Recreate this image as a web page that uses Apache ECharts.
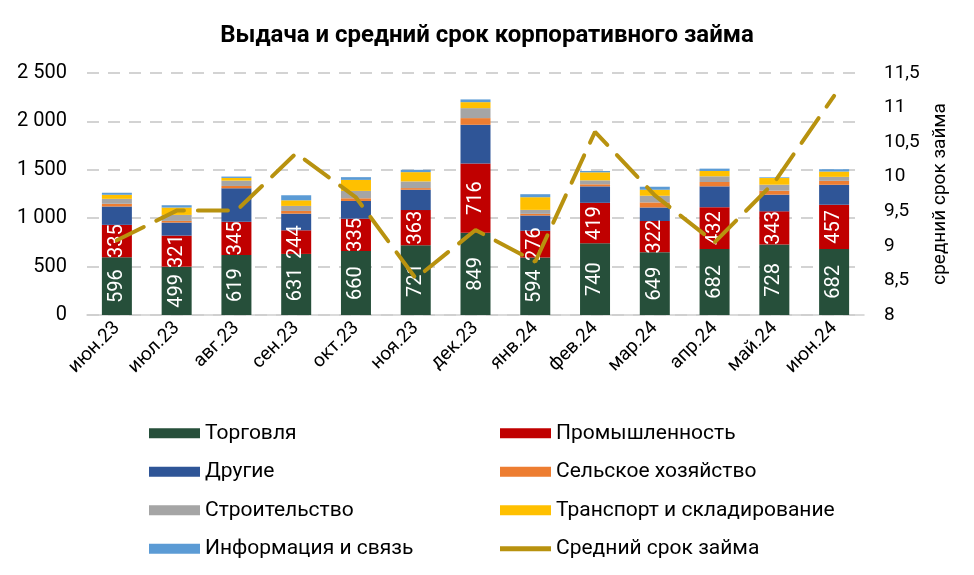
<!DOCTYPE html>
<html><head><meta charset="utf-8">
<script src="https://cdn.jsdelivr.net/npm/echarts@6/dist/echarts.min.js"></script>
<style>html,body{margin:0;padding:0;background:#fff}#c{width:974px;height:575px}</style>
</head><body><div id="c"></div>
<script>
const categories = ['июн.23','июл.23','авг.23','сен.23','окт.23','ноя.23','дек.23','янв.24','фев.24','мар.24','апр.24','май.24','июн.24'];
const trade      = [596, 499, 619, 631, 660, 721, 849, 594, 740, 649, 682, 728, 682];
const industry   = [335, 321, 345, 244, 335, 363, 716, 276, 419, 322, 432, 343, 457];
const other      = [190, 135, 345, 172, 183, 210, 400, 158, 170, 140, 215, 172, 206];
const agri       = [28, 17, 24, 28, 28, 17, 69, 17, 21, 52, 45, 41, 41];
const construct  = [51, 62, 55, 52, 76, 69, 103, 41, 41, 69, 59, 62, 41];
const transport  = [42, 76, 28, 58, 114, 96, 62, 131, 83, 62, 55, 69, 55];
const info       = [21, 24, 14, 52, 28, 24, 28, 31, 14, 31, 24, 7, 24];
const avgTerm    = [9.08, 9.51, 9.51, 10.34, 9.7, 8.53, 9.23, 8.77, 10.65, 9.73, 9.05, 9.92, 11.17];
const leftTicks  = [0, 500, 1000, 1500, 2000, 2500];
const rightTicks = [8, 8.5, 9, 9.5, 10, 10.5, 11, 11.5];

const FONT = 'Roboto, "Noto Sans", sans-serif';
const names = ['Торговля','Промышленность','Другие','Сельское хозяйство','Строительство','Транспорт и складирование','Информация и связь','Средний срок займа'];
const colors = ['#264F3A','#C00000','#2F5597','#ED7D31','#A5A5A5','#FFC000','#5B9BD5','#B8920F'];
const barData = [trade, industry, other, agri, construct, transport, info];

const series = barData.map((d, i) => ({
  name: names[i], type: 'bar', stack: 'total', barWidth: 30, data: d,
  itemStyle: { color: colors[i] },
  label: i < 2 ? { show: true, position: 'inside', rotate: 90, color: '#fff', fontSize: 20, fontFamily: FONT } : { show: false },
  emphasis: { disabled: true }
}));
series.push({
  name: names[7], type: 'line', yAxisIndex: 1, data: avgTerm, symbol: 'none',
  lineStyle: { color: colors[7], width: 4, type: [30, 14], cap: 'round' },
  itemStyle: { color: colors[7] }, z: 5
});

const legendCommon = {
  orient: 'vertical', itemWidth: 51, itemHeight: 10, itemGap: 16,
  textStyle: { fontSize: 21, fontFamily: FONT, color: '#000', lineHeight: 22.5 },
  icon: 'rect', selectedMode: false
};

const chart = echarts.init(document.getElementById('c'));
chart.setOption({
  animation: false,
  title: { text: 'Выдача и средний срок корпоративного займа', left: 'center', top: 19,
    textStyle: { fontSize: 24, fontWeight: 'bold', fontFamily: FONT, color: '#000' } },
  grid: { left: 87, right: 110, top: 73, bottom: 260, containLabel: false },
  legend: [
    Object.assign({}, legendCommon, { left: 144, top: 417, data: [names[0], names[2], names[4], names[6]] }),
    Object.assign({}, legendCommon, { left: 495, top: 417, data: [names[1], names[3], names[5],
      { name: names[7], icon: 'path://M0,3 L40,3 L40,7 L0,7 Z' }] })
  ],
  xAxis: {
    type: 'category', data: categories,
    axisLine: { lineStyle: { color: '#D0D0D0', width: 1.5 } },
    axisTick: { show: false },
    axisLabel: { rotate: 45, fontSize: 19, fontFamily: FONT, color: '#000', margin: 10 }
  },
  yAxis: [
    { type: 'value', min: leftTicks[0], max: leftTicks[leftTicks.length-1], interval: 500,
      axisLabel: { fontSize: 20, fontFamily: FONT, color: '#000', margin: 20,
        formatter: v => String(v).replace(/\B(?=(\d{3})+(?!\d))/g, ' ') },
      splitLine: { lineStyle: { color: '#D3D3D3', width: 2, type: [12, 9] } },
      axisLine: { show: false }, axisTick: { show: false } },
    { type: 'value', min: rightTicks[0], max: rightTicks[rightTicks.length-1], interval: 0.5, position: 'right',
      name: 'средний срок займа', nameLocation: 'middle', nameRotate: 90, nameGap: 66,
      nameTextStyle: { fontSize: 19, fontFamily: FONT, color: '#000' },
      axisLabel: { fontSize: 19, fontFamily: FONT, color: '#000', margin: 20,
        formatter: v => String(v).replace('.', ',') },
      splitLine: { show: false }, axisLine: { show: false }, axisTick: { show: false } }
  ],
  series: series
});
</script></body></html>
